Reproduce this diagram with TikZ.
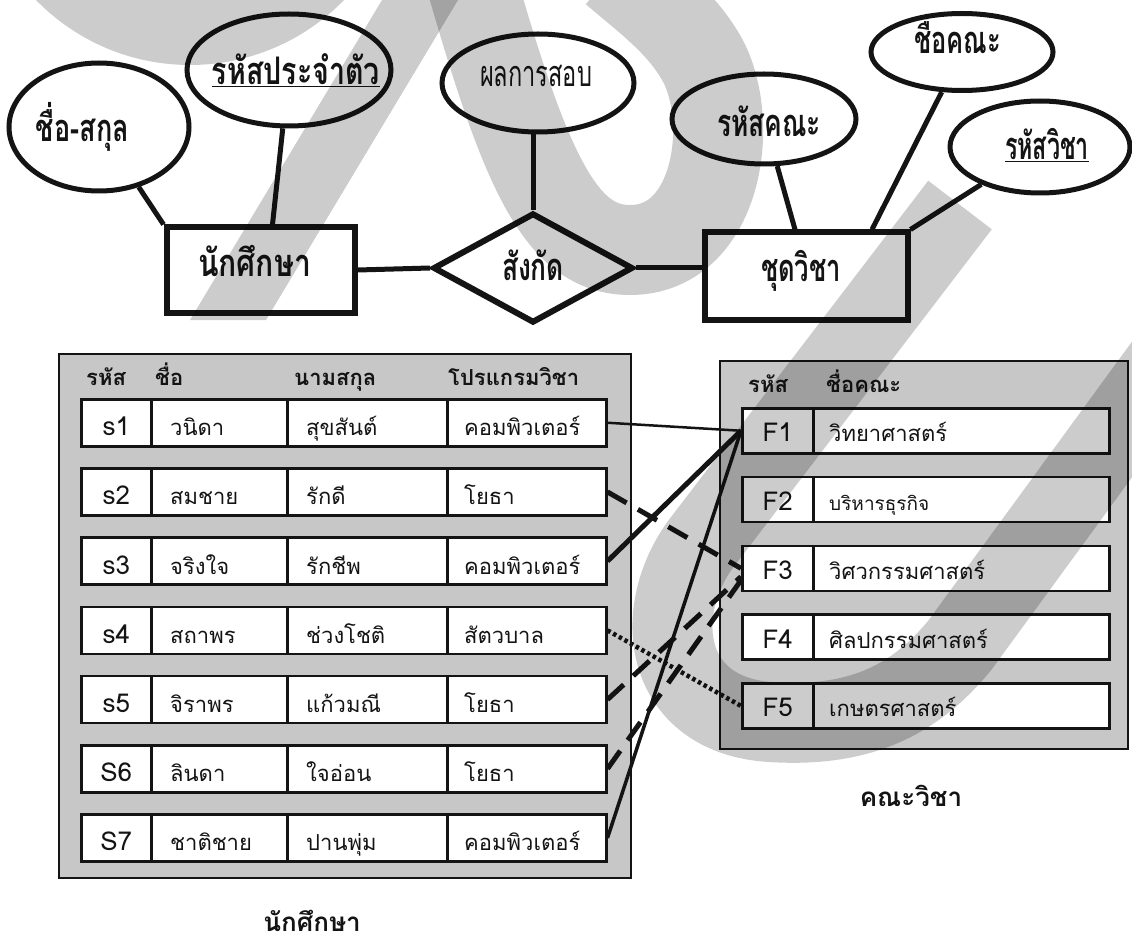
\documentclass[tikz,border=0pt]{standalone}
\usepackage{fontspec}
\usepackage{graphicx}
\usetikzlibrary{shapes.geometric,calc}
\newfontfamily\erfont[Script=Thai]{Loma}
\newfontfamily\tabfont[Script=Thai]{Loma}
\definecolor{panel}{gray}{0.78}
\definecolor{ink}{gray}{0.08}
% set a label to a given width, keeping its natural height
\newcommand\fitto[2]{\resizebox{#1}{\height}{#2}}

\tikzset{
  attr/.style={draw=ink, ellipse, line width=5pt, fill=white, inner sep=0pt},
  entity/.style={draw=ink, rectangle, line width=6pt, fill=white, inner sep=0pt},
  relship/.style={draw=ink, diamond, line width=6pt, fill=white, inner sep=0pt},
  erlink/.style={draw=ink, line width=5pt},
  ertxt/.style={inner sep=0pt, text=ink, anchor=base, font=\erfont\bfseries\fontsize{38}{42}\selectfont},
  ertxtlight/.style={inner sep=0pt, text=ink, anchor=base, font=\erfont\fontsize{36}{40}\selectfont},
  panelbox/.style={draw=ink, line width=2pt, fill=panel, anchor=north west, inner sep=0pt},
  cellbox/.style={draw=ink, line width=2.5pt, fill=white, anchor=north west, inner sep=0pt},
  tabtxt/.style={inner sep=0pt, text=ink, font=\tabfont\fontsize{22}{26}\selectfont},
  codetxt/.style={inner sep=0pt, text=ink, anchor=base, font=\tabfont\fontsize{26}{30}\selectfont},
  tabhead/.style={inner sep=0pt, text=ink, anchor=base west, font=\tabfont\bfseries\fontsize{22}{26}\selectfont},
  caption/.style={inner sep=0pt, text=ink, anchor=base, font=\tabfont\bfseries\fontsize{26}{30}\selectfont},
  solidlink/.style={draw=ink, line width=#1},
  dashlink/.style={draw=ink, line width=5pt, dash pattern=on 22pt off 13pt},
  dotlink/.style={draw=ink, line width=4.5pt, dash pattern=on 3.5pt off 3pt},
  wm/.style={black, opacity=0.2},
}

\begin{document}
\begin{tikzpicture}[x=1pt,y=-1pt]
\useasboundingbox (0,0) rectangle (1132,941);
\fill[white] (0,0) rectangle (1132,941);

% ---------- ER diagram ----------
\node[attr, minimum width=180pt, minimum height=128pt] (e1) at (99,127) {};
\node[ertxt] (t1) at (82.5,142) {\fitto{93pt}{ชื่อ-สกุล}};
\node[attr, minimum width=204pt, minimum height=112pt] (e2) at (289,70) {};
\node[ertxt] (t2) at (296,85) {\fitto{168pt}{\underline{รหัสประจำตัว}}};
\node[attr, minimum width=192pt, minimum height=98pt] (e3) at (538,83) {};
\node[ertxtlight] (t3) at (536,87) {\fitto{112pt}{ผลการสอบ}};
\node[attr, minimum width=184pt, minimum height=90pt] (e4) at (764,119) {};
\node[ertxt] (t4) at (769,137) {\fitto{104pt}{รหัสคณะ}};
\node[attr, minimum width=182pt, minimum height=77pt] (e5) at (962,52) {};
\node[ertxt] (t5) at (957.5,54) {\fitto{87pt}{ชื่อคณะ}};
\node[attr, minimum width=180pt, minimum height=92pt] (e6) at (1040,147) {};
\node[ertxt] (t6) at (1047,160) {\fitto{84pt}{\underline{รหัสวิชา}}};

\node[entity, minimum width=188pt, minimum height=85pt] (r1) at (260.5,270) {};
\node[ertxt] (t7) at (254.5,277) {\fitto{113pt}{นักศึกษา}};
\node[relship, minimum width=200pt, minimum height=110pt] (rel) at (533,268) {};
\node[ertxt] (t8) at (533,280) {\fitto{62pt}{สังกัด}};
\node[entity, minimum width=203pt, minimum height=87pt] (r2) at (806,276) {};
\node[ertxt] (t9) at (801,282) {\fitto{80pt}{ชุดวิชา}};

\draw[erlink] (e1) -- (r1.north west);
\draw[erlink] (e2) -- ($(r1.north)+(12,0)$);
\draw[erlink] (rel.north) -- (rel.north |- e3.south);
\draw[erlink] (r1.east) -- (rel.west);
\draw[erlink] (rel.east) -- (rel.east -| r2.west);
\draw[erlink] (e4) -- ($(r2.north)+(-11,0)$);
\draw[erlink] (e5) -- ($(r2.north)+(66,0)$);
\draw[erlink] (e6) -- (r2.north east);

% ---------- student table ----------
\node[panelbox, minimum width=572pt, minimum height=524pt] (lpanel) at (58,353) {};
\node[tabhead] (h1) at (86,385) {รหัส};
\node[tabhead] (h2) at (155,385) {ชื่อ};
\node[tabhead] (h3) at (294,385) {นามสกุล};
\node[tabhead] (h4) at (448,385) {โปรแกรมวิชา};

\foreach \i/\code/\fname/\lname/\prog in {
  1/s1/วนิดา/สุขสันต์/คอมพิวเตอร์,
  2/s2/สมชาย/รักดี/โยธา,
  3/s3/จริงใจ/รักชีพ/คอมพิวเตอร์,
  4/s4/สถาพร/ช่วงโชติ/สัตวบาล,
  5/s5/จิราพร/แก้วมณี/โยธา,
  6/S6/ลินดา/ใจอ่อน/โยธา,
  7/S7/ชาติชาย/ปานพุ่ม/คอมพิวเตอร์}{
  \pgfmathsetmacro\yy{398+69.2*(\i-1)}
  \node[cellbox, minimum width=70pt, minimum height=47pt] (c\i) at (80,\yy) {};
  \node[cellbox, minimum width=136pt, minimum height=47pt] (n\i) at (150,\yy) {};
  \node[cellbox, minimum width=160pt, minimum height=47pt] (sn\i) at (286,\yy) {};
  \node[cellbox, minimum width=159pt, minimum height=47pt] (p\i) at (446,\yy) {};
  \node[codetxt] (ct\i) at ($(c\i.center)+(0,13)$) {\code};
  \node[tabtxt, anchor=base west] (nt\i) at ($(n\i.west)+(20,13)$) {\fname};
  \node[tabtxt, anchor=base west] (st\i) at ($(sn\i.west)+(20,13)$) {\lname};
  \node[tabtxt, anchor=base west] (pt\i) at ($(p\i.west)+(18,13)$) {\prog};
}
\node[caption] (cap1) at (312,931) {นักศึกษา};

% ---------- faculty table ----------
\node[panelbox, minimum width=408pt, minimum height=388pt] (rpanel) at (719,360) {};
\node[tabhead] (h5) at (748,392) {รหัส};
\node[tabhead] (h6) at (826,392) {ชื่อคณะ};

\foreach \j/\code/\fac/\sz in {
  1/F1/วิทยาศาสตร์/22,
  2/F2/บริหารธุรกิจ/19,
  3/F3/วิศวกรรมศาสตร์/22,
  4/F4/ศิลปกรรมศาสตร์/22,
  5/F5/เกษตรศาสตร์/22}{
  \pgfmathsetmacro\yy{407+68.8*(\j-1)}
  \node[cellbox, minimum width=71pt, minimum height=45pt] (fc\j) at (741,\yy) {};
  \node[cellbox, minimum width=296pt, minimum height=45pt] (fn\j) at (812,\yy) {};
  \node[codetxt] (fct\j) at ($(fc\j.center)+(0,11)$) {\code};
  \node[tabtxt, anchor=base west, font=\tabfont\fontsize{\sz}{26}\selectfont] (fnt\j) at ($(fn\j.west)+(17,11)$) {\fac};
}
\node[caption] (cap2) at (911,806) {คณะวิชา};

% ---------- links between the tables ----------
\draw[solidlink=2.5pt] (p1.east) -- (fc1.west);
\draw[solidlink=5pt] (p3.east) -- (fc1.west);
\draw[solidlink=3.5pt] (p7.east) -- (fc1.west);
\draw[dashlink] (p2.east) -- (fc3.west);
\draw[dashlink] (p5.east) -- ($(fc3.west)!0.35!(fc3.south west)$);
\draw[dashlink] (p6.east) -- ($(fc3.west)!0.5!(fc3.south west)$);
\draw[dotlink] (p4.east) -- (fc5.west);

% ---------- grey watermark strokes ----------
\begin{scope}
\clip (0,0) rectangle (1132,941);
\fill[wm] (190,-150) circle[radius=215];
\fill[wm] (388,-10) -- (464,-10) -- (266,320) -- (190,320) -- cycle;
\draw[wm, line width=90pt] (468,-30) .. controls (525,170) and (560,250) .. (630,250)
  .. controls (715,250) and (735,130) .. (705,65)
  .. controls (685,25) and (650,0) .. (615,-30);
\draw[wm, line width=80pt] (960,205) -- (700,545)
  .. controls (650,615) and (665,715) .. (770,722)
  .. controls (860,728) and (915,700) .. (960,645) -- (1190,330);
\end{scope}
\end{tikzpicture}
\end{document}
